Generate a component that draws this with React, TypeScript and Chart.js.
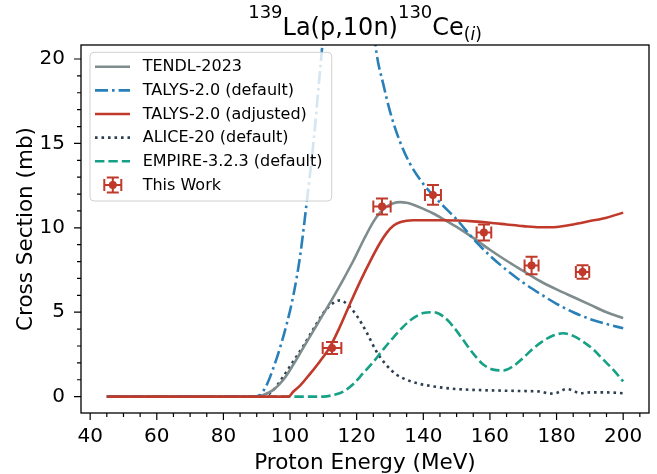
import React, { useEffect, useRef } from "react";
import { Chart, registerables } from "chart.js";

Chart.register(...registerables);

const FONT = "'DejaVu Sans', 'Liberation Sans', sans-serif";

// ---- Data ----
const tendlE = [45, 88, 90, 92, 95, 98, 101, 104, 107, 110, 113, 116, 119, 122, 125, 127, 129, 131, 133, 135, 137, 140, 143, 146, 150, 155, 160, 165, 170, 175, 180, 185, 190, 195, 200];
const tendlXS = [0, 0, 0.02, 0.1, 0.4, 1.0, 1.9, 2.9, 3.9, 4.9, 5.9, 6.95, 8.05, 9.25, 10.35, 10.9, 11.25, 11.45, 11.52, 11.48, 11.37, 11.12, 10.85, 10.52, 10.05, 9.4, 8.7, 8.05, 7.45, 6.85, 6.35, 5.9, 5.45, 5.0, 4.65];

const talysDefE = [45, 89, 91, 93, 95, 97, 99, 101, 103, 105, 107, 109, 111, 114, 117, 120, 123, 126, 128, 130, 133, 136, 140, 145, 150, 155, 160, 165, 170, 175, 180, 185, 190, 195, 200];
const talysDefXS = [0, 0, 0.1, 0.7, 1.7, 2.9, 4.3, 6.0, 8.3, 11.5, 15.0, 19.3, 23.5, 27.5, 29.5, 29.0, 25.5, 20.3, 18.5, 16.9, 15.1, 13.8, 12.6, 11.5, 10.5, 9.35, 8.35, 7.5, 6.75, 6.1, 5.5, 5.0, 4.6, 4.3, 4.05];

const talysAdjE = [45, 99.5, 101, 103, 106, 109, 112, 115, 118, 121, 124, 127, 129, 131, 133, 135, 137, 140, 145, 150, 155, 160, 165, 170, 175, 180, 185, 190, 195, 200];
const talysAdjXS = [0, 0, 0.3, 0.65, 1.35, 2.1, 2.95, 4.15, 5.5, 6.8, 8.0, 9.1, 9.7, 10.12, 10.33, 10.42, 10.45, 10.45, 10.45, 10.43, 10.38, 10.3, 10.2, 10.1, 10.03, 10.05, 10.2, 10.4, 10.6, 10.9];

const aliceE = [45, 92, 95, 98, 101, 104, 107, 110, 113, 115, 117, 120, 123, 126, 129, 132, 135, 138, 141, 145, 150, 155, 160, 165, 170, 175, 178, 180, 183, 185, 187, 190, 195, 200];
const aliceXS = [0, 0, 0.4, 1.2, 2.1, 3.0, 4.0, 4.95, 5.55, 5.7, 5.5, 4.8, 3.8, 2.65, 1.85, 1.3, 1.0, 0.8, 0.67, 0.55, 0.45, 0.4, 0.37, 0.35, 0.33, 0.3, 0.18, 0.22, 0.45, 0.35, 0.2, 0.25, 0.25, 0.2];

const empireE = [45, 110, 113, 116, 119, 122, 125, 128, 131, 134, 137, 140, 143, 146, 149, 152, 155, 158, 161, 164, 167, 170, 173, 176, 179, 182, 185, 188, 191, 194, 197, 200];
const empireXS = [0, 0, 0.1, 0.3, 0.75, 1.4, 2.05, 2.8, 3.5, 4.15, 4.65, 4.95, 5.0, 4.75, 4.15, 3.35, 2.55, 1.9, 1.6, 1.55, 1.8, 2.3, 2.85, 3.3, 3.62, 3.75, 3.6, 3.25, 2.8, 2.2, 1.6, 0.9];

const workE = [112.6, 127.6, 142.9, 158.2, 172.5, 187.8];
const workXS = [2.88, 11.26, 11.95, 9.72, 7.77, 7.38];
const workEErr = [2.8, 2.6, 2.4, 2.2, 2.1, 2.0];
const workXSErr = [0.35, 0.47, 0.59, 0.47, 0.52, 0.4];

const seriesLabels = ["TENDL-2023", "TALYS-2.0 (default)", "TALYS-2.0 (adjusted)", "ALICE-20 (default)", "EMPIRE-3.2.3 (default)", "This Work"];

const xMajorTicks = [40, 60, 80, 100, 120, 140, 160, 180, 200];
const yMajorTicks = [0, 5, 10, 15, 20];
const xMinorStep = 5;
const yMinorStep = 1;

const GRAY = "#7f8c8d";
const BLUE = "#2980b9";
const RED = "#c0392b";
const DARK = "#2c3e50";
const GREEN = "#16a085";

const LW = 2.6;
const DASHES: number[][] = [[], [13, 4, 2.6, 4], [], [2.6, 3.9], [9.4, 4]];
const LINE_COLORS = [GRAY, BLUE, RED, DARK, GREEN];
const CAP = 6;

function toPoints(xs: number[], ys: number[]) {
  return xs.map((x, i) => ({ x, y: ys[i] }));
}

export default function App() {
  const ref = useRef<HTMLCanvasElement>(null);

  useEffect(() => {
    const canvas = ref.current!;

    const errPlugin = {
      id: "errbars",
      beforeDatasetDraw(chart: any, args: any) {
        if (args.index !== 5) return;
        const ctx = chart.ctx;
        const xs = chart.scales.x;
        const ys = chart.scales.y;
        ctx.save();
        ctx.strokeStyle = RED;
        ctx.lineWidth = 2;
        ctx.setLineDash([]);
        workE.forEach((e, i) => {
          const cx = xs.getPixelForValue(e);
          const cy = ys.getPixelForValue(workXS[i]);
          const x0 = xs.getPixelForValue(e - workEErr[i]);
          const x1 = xs.getPixelForValue(e + workEErr[i]);
          const y0 = ys.getPixelForValue(workXS[i] - workXSErr[i]);
          const y1 = ys.getPixelForValue(workXS[i] + workXSErr[i]);
          ctx.beginPath();
          ctx.moveTo(cx, y0); ctx.lineTo(cx, y1);
          ctx.moveTo(cx - CAP, y0); ctx.lineTo(cx + CAP, y0);
          ctx.moveTo(cx - CAP, y1); ctx.lineTo(cx + CAP, y1);
          ctx.moveTo(x0, cy); ctx.lineTo(x1, cy);
          ctx.moveTo(x0, cy - CAP); ctx.lineTo(x0, cy + CAP);
          ctx.moveTo(x1, cy - CAP); ctx.lineTo(x1, cy + CAP);
          ctx.stroke();
        });
        ctx.restore();
      },
    };

    const decorPlugin = {
      id: "decor",
      afterDraw(chart: any) {
        const ctx = chart.ctx;
        const area = chart.chartArea;
        const xs = chart.scales.x;
        const ys = chart.scales.y;
        ctx.save();
        ctx.setLineDash([]);
        // ticks
        ctx.strokeStyle = "#000";
        ctx.lineWidth = 1.2;
        ctx.beginPath();
        for (let v = Math.ceil(xs.min / xMinorStep) * xMinorStep; v <= xs.max; v += xMinorStep) {
          const px = xs.getPixelForValue(v);
          const major = xMajorTicks.includes(v);
          ctx.moveTo(px, area.bottom);
          ctx.lineTo(px, area.bottom + (major ? 7 : 4));
        }
        for (let v = Math.ceil(ys.min / yMinorStep) * yMinorStep; v <= ys.max; v += yMinorStep) {
          const py = ys.getPixelForValue(v);
          const major = yMajorTicks.includes(v);
          ctx.moveTo(area.left, py);
          ctx.lineTo(area.left - (major ? 7 : 4), py);
        }
        ctx.stroke();
        // spines
        ctx.lineWidth = 1.3;
        ctx.strokeRect(area.left, area.top, area.right - area.left, area.bottom - area.top);

        // axis titles
        ctx.fillStyle = "#000";
        ctx.font = `21.5px ${FONT}`;
        ctx.textAlign = "center";
        ctx.textBaseline = "alphabetic";
        ctx.fillText("Proton Energy (MeV)", (area.left + area.right) / 2, 469);
        ctx.save();
        ctx.translate(31.5, (area.top + area.bottom) / 2);
        ctx.rotate(-Math.PI / 2);
        ctx.fillText("Cross Section (mb)", 0, 0);
        ctx.restore();

        // title with super/subscripts
        const segs = [
          { t: "139", size: 18, dy: -17, it: false },
          { t: "La(p,10n)", size: 24, dy: 0, it: false },
          { t: "130", size: 18, dy: -17, it: false },
          { t: "Ce", size: 24, dy: 0, it: false },
          { t: "(", size: 17, dy: 5, it: false },
          { t: "i", size: 17, dy: 5, it: true },
          { t: ")", size: 17, dy: 5, it: false },
        ];
        ctx.textAlign = "left";
        let total = 0;
        const widths = segs.map((s) => {
          ctx.font = `${s.it ? "italic " : ""}${s.size}px ${FONT}`;
          const w = ctx.measureText(s.t).width;
          total += w;
          return w;
        });
        let tx = (area.left + area.right) / 2 - total / 2;
        segs.forEach((s, i) => {
          ctx.font = `${s.it ? "italic " : ""}${s.size}px ${FONT}`;
          ctx.fillText(s.t, tx, 35 + s.dy);
          tx += widths[i];
        });

        // legend
        const lx = 90, ly = 52.3, lw = 241.7, lh = 148.7;
        ctx.beginPath();
        ctx.roundRect(lx, ly, lw, lh, 4);
        ctx.fillStyle = "rgba(255,255,255,0.8)";
        ctx.fill();
        ctx.strokeStyle = "#d0d0d0";
        ctx.lineWidth = 1;
        ctx.stroke();
        ctx.font = `16px ${FONT}`;
        ctx.textBaseline = "middle";
        seriesLabels.forEach((lab, i) => {
          const cy = 66.7 + i * 23.65;
          if (i < 5) {
            ctx.strokeStyle = LINE_COLORS[i];
            ctx.lineWidth = LW;
            ctx.setLineDash(DASHES[i]);
            ctx.beginPath();
            ctx.moveTo(95, cy);
            ctx.lineTo(130, cy);
            ctx.stroke();
            ctx.setLineDash([]);
          } else {
            const cx = 112.8;
            ctx.strokeStyle = RED;
            ctx.lineWidth = 2;
            ctx.beginPath();
            ctx.moveTo(cx - 8.5, cy); ctx.lineTo(cx + 8.5, cy);
            ctx.moveTo(cx - 8.5, cy - CAP); ctx.lineTo(cx - 8.5, cy + CAP);
            ctx.moveTo(cx + 8.5, cy - CAP); ctx.lineTo(cx + 8.5, cy + CAP);
            ctx.moveTo(cx, cy - 7.5); ctx.lineTo(cx, cy + 7.5);
            ctx.moveTo(cx - CAP, cy - 7.5); ctx.lineTo(cx + CAP, cy - 7.5);
            ctx.moveTo(cx - CAP, cy + 7.5); ctx.lineTo(cx + CAP, cy + 7.5);
            ctx.stroke();
            ctx.fillStyle = RED;
            ctx.beginPath();
            ctx.arc(cx, cy, 4, 0, Math.PI * 2);
            ctx.fill();
          }
          ctx.fillStyle = "#000";
          ctx.fillText(lab, 142.7, cy + 0.5);
        });
        ctx.restore();
      },
    };

    const lineDs = (i: number, xs: number[], ys: number[], order: number) => ({
      label: seriesLabels[i],
      data: toPoints(xs, ys),
      showLine: true,
      borderColor: LINE_COLORS[i],
      backgroundColor: LINE_COLORS[i],
      borderWidth: LW,
      borderDash: DASHES[i],
      pointRadius: 0,
      pointHoverRadius: 0,
      fill: false,
      cubicInterpolationMode: "monotone" as const,
      order,
    });

    const chart = new Chart(canvas, {
      type: "scatter",
      data: {
        datasets: [
          lineDs(0, tendlE, tendlXS, 3),
          lineDs(1, talysDefE, talysDefXS, 2),
          lineDs(2, talysAdjE, talysAdjXS, 1),
          lineDs(3, aliceE, aliceXS, 5),
          lineDs(4, empireE, empireXS, 4),
          {
            label: seriesLabels[5],
            data: toPoints(workE, workXS),
            showLine: false,
            pointRadius: 4,
            pointHoverRadius: 4,
            pointBackgroundColor: RED,
            pointBorderColor: RED,
            pointBorderWidth: 0,
            order: 0,
          } as any,
        ],
      },
      options: {
        animation: false,
        responsive: false,
        devicePixelRatio: 1,
        events: [],
        layout: { padding: { top: 45, right: 8, left: 0, bottom: 0 } },
        plugins: {
          legend: { display: false },
          tooltip: { enabled: false },
          title: { display: false },
        },
        scales: {
          x: {
            type: "linear",
            min: 37.25,
            max: 207.75,
            grid: { display: false, drawTicks: false },
            border: { display: false },
            afterBuildTicks: (s: any) => {
              s.ticks = xMajorTicks.map((v) => ({ value: v }));
            },
            afterFit: (s: any) => {
              s.height = 61;
            },
            ticks: {
              font: { family: FONT, size: 20 },
              color: "#000",
              padding: 12,
              maxRotation: 0,
              autoSkip: false,
            },
          },
          y: {
            type: "linear",
            min: -0.97,
            max: 20.83,
            grid: { display: false, drawTicks: false },
            border: { display: false },
            afterBuildTicks: (s: any) => {
              s.ticks = yMajorTicks.map((v) => ({ value: v }));
            },
            afterFit: (s: any) => {
              s.width = 81;
            },
            ticks: {
              font: { family: FONT, size: 20 },
              color: "#000",
              padding: 16,
              autoSkip: false,
            },
          },
        },
      },
      plugins: [errPlugin, decorPlugin],
    });

    return () => chart.destroy();
  }, []);

  return (
    <div style={{ position: "fixed", left: 0, top: 0, width: 657, height: 474, background: "#fff" }}>
      <canvas ref={ref} width={657} height={474} style={{ display: "block" }} />
    </div>
  );
}
